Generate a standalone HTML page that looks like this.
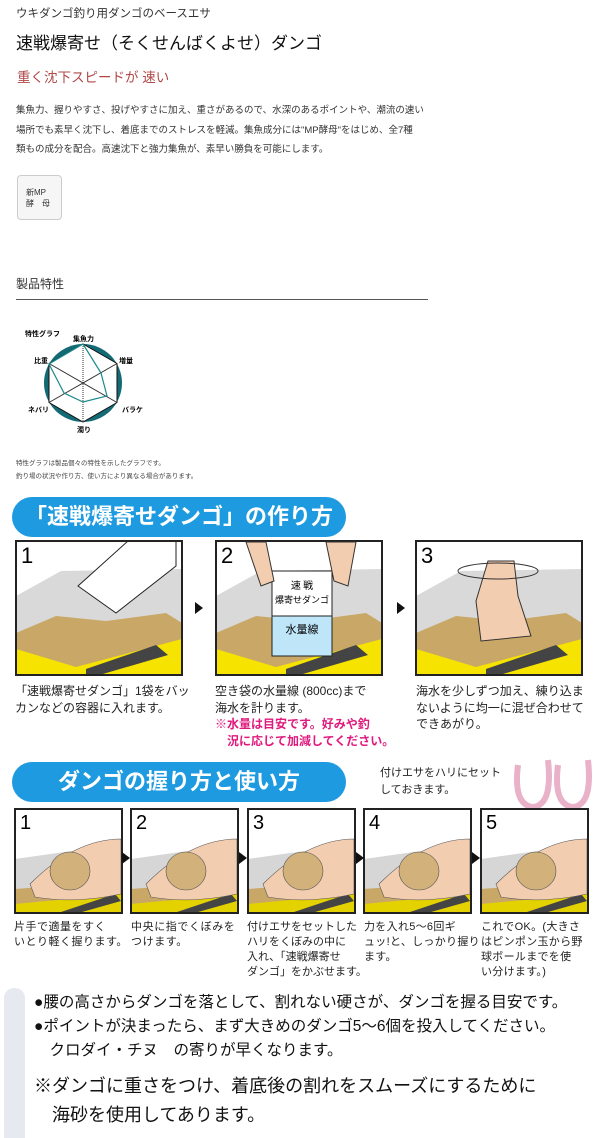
<!DOCTYPE html>
<html><head><meta charset="utf-8"><style>
*{margin:0;padding:0;box-sizing:border-box}
body{width:600px;height:1136px;background:#fff;position:relative;overflow:hidden;font-family:"Liberation Sans","Noto Sans CJK JP",sans-serif;color:#222}
.a{position:absolute;white-space:nowrap}
.pill{position:absolute;background:#1e9be0;border-radius:20px;color:#fff;font-weight:bold;text-align:center}
.cap{position:absolute;font-size:12px;line-height:16.5px;color:#222;white-space:nowrap}
.cap2{position:absolute;font-size:11px;line-height:15px;color:#222;white-space:nowrap;letter-spacing:1px}
.arr{position:absolute;width:0;height:0;border-top:6px solid transparent;border-bottom:6px solid transparent;border-left:8px solid #111}
</style></head><body>
<div class="a" style="left:16px;top:5px;font-size:11.5px;color:#333">ウキダンゴ釣り用ダンゴのベースエサ</div>
<div class="a" style="left:16px;top:29px;font-size:17px;color:#111">速戦爆寄せ（そくせんばくよせ）ダンゴ</div>
<div class="a" style="left:17px;top:66px;font-size:13.5px;color:#b04848">重く沈下スピードが 速い</div>
<div class="a" style="left:16px;top:101px;font-size:9.5px;line-height:19.5px;color:#333">集魚力、握りやすさ、投げやすさに加え、重さがあるので、水深のあるポイントや、潮流の速い<br>場所でも素早く沈下し、着底までのストレスを軽減。集魚成分には"MP酵母"をはじめ、全7種<br>類もの成分を配合。高速沈下と強力集魚が、素早い勝負を可能にします。</div>
<div class="a" style="left:17px;top:175px;width:45px;height:45px;border:1px solid #ccc;border-radius:4px;background:#f6f6f6;font-size:8px;line-height:11px;padding:11px 0 0 8px;color:#333">新MP<br>酵　母</div>
<div class="a" style="left:16px;top:275px;font-size:12px;color:#333">製品特性</div>
<div class="a" style="left:16px;top:299px;width:412px;height:1px;background:#555"></div>
<svg class="a" style="left:0;top:320px" width="160" height="120">
<text x="25" y="16" font-size="7" font-weight="bold" font-family="Liberation Sans,Noto Sans CJK JP,sans-serif">特性グラフ</text>
<circle cx="83" cy="63" r="39" fill="#136a74"/>
<polygon points="83,24 117,43.5 117,82.5 83,102 49,82.5 49,43.5" fill="#fff" stroke="#111" stroke-width="1"/>
<line x1="83" y1="24" x2="83" y2="102" stroke="#333" stroke-dasharray="1,1"/>
<line x1="117" y1="43.5" x2="49" y2="82.5" stroke="#333"/>
<line x1="49" y1="43.5" x2="117" y2="82.5" stroke="#333"/>
<polygon points="83,24 101,53 107,76 83,82 64,73 49,44" fill="none" stroke="#1a8a8a" stroke-width="1.2"/>
<g font-size="7" font-weight="bold" font-family="Liberation Sans,Noto Sans CJK JP,sans-serif">
<text x="73" y="21">集魚力</text><text x="119" y="43">増量</text><text x="122" y="92">バラケ</text>
<text x="77" y="112">濁り</text><text x="28" y="92">ネバリ</text><text x="34" y="43">比重</text></g>
</svg>
<div class="a" style="left:16px;top:457px;font-size:6.5px;line-height:13px;color:#444">特性グラフは製品個々の特性を示したグラフです。<br>釣り場の状況や作り方、使い方により異なる場合があります。</div>

<div class="pill" style="left:12px;top:497px;width:334px;height:40px;font-size:22px;line-height:40px">「速戦爆寄せダンゴ」の作り方</div>

<svg class="a" style="left:0;top:539px" width="600" height="140">
<defs>
<g id="tray">
<polygon points="0,55 45,30 166,28 166,135 0,135" fill="#d9d9d9"/>
<polygon points="0,92 40,75 90,80 150,72 166,82 166,135 0,135" fill="#c9a867"/>
<polygon points="0,108 60,126 166,98 166,135 0,135" fill="#f6e400"/>
<polygon points="70,128 140,104 152,114 80,135 70,135" fill="#444"/>
</g></defs>
<g transform="translate(16,2)"><use href="#tray"/><polygon points="62,45 112,0 160,0 160,25 100,72" fill="#fff" stroke="#222"/><rect x="0" y="0" width="166" height="134" fill="none" stroke="#222" stroke-width="2"/><text x="5" y="22" font-size="22" font-family="Liberation Sans,sans-serif">1</text></g>
<g transform="translate(216,2)"><use href="#tray"/><rect x="0" y="0" width="166" height="134" fill="none" stroke="#222" stroke-width="2"/><text x="5" y="22" font-size="22" font-family="Liberation Sans,sans-serif">2</text>
<rect x="56" y="30" width="60" height="45" fill="#fff" stroke="#222"/><rect x="56" y="75" width="60" height="40" fill="#bfe6f8" stroke="#222"/>
<text x="86" y="48" font-size="10" text-anchor="middle" font-family="Noto Sans CJK JP,sans-serif">速 戦</text><text x="86" y="62" font-size="9" text-anchor="middle" font-family="Noto Sans CJK JP,sans-serif">爆寄せダンゴ</text><text x="86" y="92" font-size="11" text-anchor="middle" font-family="Noto Sans CJK JP,sans-serif">水量線</text>
<path d="M30,1 L45,45 L58,40 L50,1Z M110,1 L118,40 L132,45 L140,1Z" fill="#f3cdb0" stroke="#333"/></g>
<g transform="translate(416,2)"><use href="#tray"/><rect x="0" y="0" width="166" height="134" fill="none" stroke="#222" stroke-width="2"/><text x="5" y="22" font-size="22" font-family="Liberation Sans,sans-serif">3</text>
<path d="M72,20 L98,20 L102,55 L115,95 L65,100 L60,60Z" fill="#f3cdb0" stroke="#333"/>
<ellipse cx="82" cy="30" rx="40" ry="8" fill="none" stroke="#333"/></g>
</svg>
<div class="arr" style="left:195px;top:602px"></div>
<div class="arr" style="left:397px;top:602px"></div>
<div class="cap" style="left:15px;top:683px">「速戦爆寄せダンゴ」1袋をバッ<br>カンなどの容器に入れます。</div>
<div class="cap" style="left:215px;top:683px">空き袋の水量線 (800cc)まで<br>海水を計ります。<br><span style="color:#e0197d;font-weight:bold">※水量は目安です。好みや釣<br>　況に応じて加減してください。</span></div>
<div class="cap" style="left:416px;top:683px">海水を少しずつ加え、練り込ま<br>ないように均一に混ぜ合わせて<br>できあがり。</div>

<div class="pill" style="left:12px;top:762px;width:334px;height:40px;font-size:22px;line-height:40px">ダンゴの握り方と使い方</div>
<div class="a" style="left:380px;top:765px;font-size:11px;line-height:17px">付けエサをハリにセット<br>しておきます。</div>
<svg class="a" style="left:508px;top:755px" width="90" height="58"><path d="M10,10 Q5,50 25,52 Q45,50 40,5" fill="none" stroke="#e9b2c8" stroke-width="6"/><path d="M50,10 Q45,50 65,52 Q85,50 80,5" fill="none" stroke="#e9b2c8" stroke-width="6"/></svg>

<svg class="a" style="left:0;top:807px" width="600" height="110">
<defs><g id="t2">
<polygon points="0,50 106,35 106,105 0,105" fill="#d6d6d6"/>
<polygon points="0,80 106,72 106,105 0,105" fill="#c9a867"/>
<polygon points="0,95 106,85 106,105 0,105" fill="#e4d200"/>
<polygon points="40,105 100,85 106,92 60,105" fill="#444"/>
<path d="M15,75 Q60,30 106,30 L106,85 Q60,95 20,88Z" fill="#f3cdb0" stroke="#555" stroke-width=".6"/>
<ellipse cx="55" cy="62" rx="20" ry="19" fill="#d2b27a" stroke="#555" stroke-width=".6"/>
</g></defs>
<g transform="translate(15,2)"><use href="#t2"/><rect width="107" height="104" fill="none" stroke="#222" stroke-width="2"/><text x="5" y="20" font-size="20" font-family="Liberation Sans,sans-serif">1</text></g>
<g transform="translate(131,2)"><use href="#t2"/><rect width="107" height="104" fill="none" stroke="#222" stroke-width="2"/><text x="5" y="20" font-size="20" font-family="Liberation Sans,sans-serif">2</text></g>
<g transform="translate(248,2)"><use href="#t2"/><rect width="107" height="104" fill="none" stroke="#222" stroke-width="2"/><text x="5" y="20" font-size="20" font-family="Liberation Sans,sans-serif">3</text></g>
<g transform="translate(364,2)"><use href="#t2"/><rect width="107" height="104" fill="none" stroke="#222" stroke-width="2"/><text x="5" y="20" font-size="20" font-family="Liberation Sans,sans-serif">4</text></g>
<g transform="translate(481,2)"><use href="#t2"/><rect width="107" height="104" fill="none" stroke="#222" stroke-width="2"/><text x="5" y="20" font-size="20" font-family="Liberation Sans,sans-serif">5</text></g>
</svg>
<div class="arr" style="left:122px;top:852px"></div>
<div class="arr" style="left:239px;top:852px"></div>
<div class="arr" style="left:356px;top:852px"></div>
<div class="arr" style="left:472px;top:852px"></div>
<div class="cap2" style="left:14px;top:920px;letter-spacing:0.5px">片手で適量をすく<br>いとり軽く握ります。</div>
<div class="cap2" style="left:131px;top:920px;letter-spacing:0.6px">中央に指でくぼみを<br>つけます。</div>
<div class="cap2" style="left:247px;top:920px;letter-spacing:0">付けエサをセットした<br>ハリをくぼみの中に<br>入れ、「速戦爆寄せ<br>ダンゴ」をかぶせます。</div>
<div class="cap2" style="left:364px;top:920px;letter-spacing:0.3px">力を入れ5～6回ギ<br>ュッ!と、しっかり握り<br>ます。</div>
<div class="cap2" style="left:481px;top:920px;letter-spacing:0.3px">これでOK。(大きさ<br>はピンポン玉から野<br>球ボールまでを使<br>い分けます。)</div>

<div class="a" style="left:4px;top:988px;width:21px;height:150px;background:#e6eaf0;border-radius:10px 10px 0 0"></div>
<div class="a" style="left:34px;top:991px;font-size:15.5px;line-height:24px;color:#111">●腰の高さからダンゴを落として、割れない硬さが、ダンゴを握る目安です。<br>●ポイントが決まったら、まず大きめのダンゴ5～6個を投入してください。<br>　クロダイ・チヌ　の寄りが早くなります。</div>
<div class="a" style="left:34px;top:1072px;font-size:18px;line-height:29px;color:#111">※ダンゴに重さをつけ、着底後の割れをスムーズにするために<br>　海砂を使用してあります。</div>
</body></html>
